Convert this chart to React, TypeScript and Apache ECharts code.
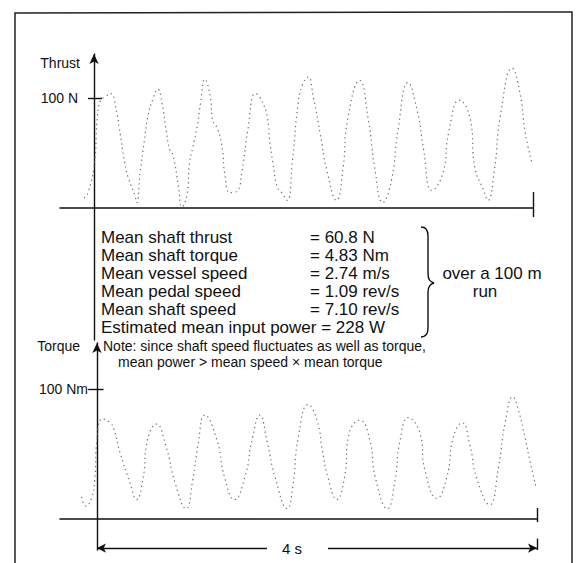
import React, { useEffect, useRef } from "react";
import * as echarts from "echarts";

// ---- data ----
const thrustT = [-0.09, -0.05, 0.01, 0.02, 0.03, 0.06, 0.10, 0.15, 0.21, 0.23, 0.28, 0.31, 0.37, 0.39, 0.42, 0.46, 0.49, 0.54, 0.58, 0.62, 0.66, 0.69, 0.72, 0.77, 0.80, 0.85, 0.87, 0.90, 0.94, 0.97, 1.01, 1.06, 1.08, 1.13, 1.17, 1.19, 1.24, 1.30, 1.35, 1.40, 1.47, 1.51, 1.58, 1.60, 1.63, 1.67, 1.71, 1.76, 1.81, 1.86, 1.90, 1.95, 2.00, 2.06, 2.12, 2.21, 2.27, 2.31, 2.42, 2.50, 2.56, 2.63, 2.71, 2.77, 2.86, 2.95, 3.00, 3.08, 3.18, 3.23, 3.33, 3.43, 3.47, 3.55, 3.59, 3.65, 3.70, 3.81, 3.88, 3.93, 3.99];
const thrustN = [9, 15, 46, 65, 83, 98, 101, 104, 85, 73, 41, 28, 12, 5, 32, 62, 83, 100, 108, 95, 69, 53, 48, 19, 1, 14, 41, 55, 74, 95, 117, 101, 80, 71, 53, 32, 14, 15, 35, 70, 104, 101, 82, 62, 41, 19, 14, 7, 45, 95, 112, 119, 100, 68, 35, 7, 37, 80, 116, 80, 35, 5, 25, 71, 114, 86, 55, 16, 32, 68, 98, 80, 37, 16, 7, 36, 82, 127, 105, 68, 41];

const torqueT = [-0.14, -0.10, -0.05, -0.02, 0.0, 0.05, 0.12, 0.15, 0.21, 0.30, 0.36, 0.42, 0.46, 0.54, 0.63, 0.71, 0.81, 0.87, 0.92, 0.98, 1.09, 1.16, 1.25, 1.35, 1.41, 1.48, 1.55, 1.62, 1.73, 1.78, 1.83, 1.92, 2.00, 2.05, 2.10, 2.18, 2.25, 2.29, 2.39, 2.48, 2.53, 2.64, 2.71, 2.75, 2.83, 2.94, 2.98, 3.09, 3.18, 3.24, 3.32, 3.39, 3.45, 3.57, 3.65, 3.71, 3.78, 3.83, 3.89, 3.94, 3.99];
const torqueV = [17, 10, 16, 30, 61, 77, 74, 70, 51, 28, 15, 32, 61, 73, 55, 28, 8, 30, 58, 80, 61, 32, 15, 34, 61, 80, 58, 32, 8, 25, 63, 88, 76, 52, 32, 15, 32, 65, 76, 61, 32, 8, 30, 58, 78, 65, 38, 16, 32, 63, 74, 57, 32, 11, 40, 74, 94, 84, 63, 43, 25];

const thrustTick = [100];
const torqueTick = [100];
const thrustTickLabel = "100 N";
const torqueTickLabel = "100 Nm";
const durationSeconds = 4;
const durationLabel = "4 s";

const statLabels = ["Mean shaft thrust", "Mean shaft torque", "Mean vessel speed", "Mean pedal speed", "Mean shaft speed"];
const statValues = ["= 60.8 N", "= 4.83 Nm", "= 2.74 m/s", "= 1.09 rev/s", "= 7.10 rev/s"];
const powerLine = "Estimated mean input power = 228 W";
const noteLines = ["Note: since shaft speed fluctuates as well as torque,", "mean power > mean speed \u00d7 mean torque"];
const runLines = ["over a 100 m", "run"];

const FONT = "'Liberation Sans', Arial, Helvetica, sans-serif";
const INK = "#111";

echarts.graphic.registerShape(
  "brace",
  echarts.graphic.extendPath(
    "M0,0 C5,0 7,3 7,9 L7,47 C7,52 9,55 13,56 C9,57 7,60 7,65 L7,101 C7,107 5,110 0,110",
    {}
  )
);

function seg(a: number[], b: number[]) {
  return [{ coord: a }, { coord: b }];
}

export default function App() {
  const ref = useRef<HTMLDivElement>(null);
  useEffect(() => {
    document.body.style.margin = "0";
    const chart = echarts.init(ref.current!, null, { renderer: "svg" });
    const lineMark = {
      silent: true,
      symbol: "none",
      label: { show: false },
      lineStyle: { color: INK, width: 1.4, type: "solid" as const },
      emphasis: { disabled: true },
    };
    const dotted = { color: "#6f6f6f", width: 1.2, type: [1.3, 3.4] };
    const axisCommonX = {
      type: "value" as const,
      max: durationSeconds,
      axisLine: { onZero: true, lineStyle: { color: INK, width: 1.6 } },
      axisTick: { show: false },
      axisLabel: { show: false },
      splitLine: { show: false },
    };
    const txt = (x: number, y: number, text: string, size: number, align = "left") => ({
      type: "text", x, y,
      style: { text, fontSize: size, fontFamily: FONT, fill: INK, align, verticalAlign: "middle" },
    });
    const statTexts: any[] = [];
    statLabels.forEach((s, i) => {
      statTexts.push(txt(101, 237 + i * 18, s, 17));
      statTexts.push(txt(310, 237 + i * 18, statValues[i], 17));
    });
    statTexts.push(txt(101, 327, powerLine, 17));
    statTexts.push(txt(103, 346, noteLines[0], 14));
    statTexts.push(txt(118, 362, noteLines[1], 14));
    statTexts.push(txt(492, 273, runLines[0], 17, "center"));
    statTexts.push(txt(485, 291, runLines[1], 17, "center"));

    chart.setOption({
      animation: false,
      backgroundColor: "#ffffff",
      grid: [
        { left: 60, right: 45, top: 54, bottom: 223 },
        { left: 60, right: 41, top: 343, bottom: 13 },
      ],
      xAxis: [
        { ...axisCommonX, gridIndex: 0, min: -0.31 },
        { ...axisCommonX, gridIndex: 1, min: -0.336 },
      ],
      yAxis: [
        {
          type: "value", gridIndex: 0, min: -120, max: 140,
          axisLine: { show: true, onZero: true, symbol: ["none", "arrow"], symbolSize: [7, 10], lineStyle: { color: INK, width: 1.4 } },
          axisTick: { show: false },
          axisLabel: { show: true, customValues: thrustTick, formatter: () => thrustTickLabel, margin: -18, fontSize: 14, fontFamily: FONT, color: INK },
          splitLine: { show: false },
        },
        {
          type: "value", gridIndex: 1, min: -23.8, max: 135.4,
          axisLine: { show: true, onZero: true, symbol: ["none", "arrow"], symbolSize: [7, 10], lineStyle: { color: INK, width: 1.4 } },
          axisTick: { show: false },
          axisLabel: { show: true, customValues: torqueTick, formatter: () => torqueTickLabel, margin: -28, fontSize: 14, fontFamily: FONT, color: INK },
          splitLine: { show: false },
        },
      ],
      series: [
        {
          name: "Thrust", type: "line", xAxisIndex: 0, yAxisIndex: 0,
          data: thrustT.map((t, i) => [t, thrustN[i]]),
          smooth: 0.5, symbol: "none", lineStyle: dotted,
          markLine: {
            ...lineMark,
            data: [
              seg([-0.055, thrustTick[0]], [0.073, thrustTick[0]]),
              seg([durationSeconds, 14.5], [durationSeconds, -8.2]),
            ],
          },
        },
        {
          name: "Torque", type: "line", xAxisIndex: 1, yAxisIndex: 1,
          data: torqueT.map((t, i) => [t, torqueV[i]]),
          smooth: 0.5, symbol: "none", lineStyle: dotted,
          markLine: {
            ...lineMark,
            data: [
              seg([-0.08, torqueTick[0]], [0.06, torqueTick[0]]),
              seg([durationSeconds, 8.5], [durationSeconds, -2.3]),
              seg([durationSeconds, -15], [durationSeconds, -23.8]),
            ],
          },
        },
        {
          name: "Duration", type: "line", xAxisIndex: 1, yAxisIndex: 1, data: [],
          markLine: {
            silent: true,
            label: { show: false },
            symbolSize: [7, 9],
            lineStyle: { color: INK, width: 1.3, type: "solid" },
            data: [
              [{ coord: [0, -22.3], symbol: "arrow" }, { coord: [1.545, -22.3], symbol: "none" }],
              [{ coord: [2.1, -22.3], symbol: "none" }, { coord: [durationSeconds, -22.3], symbol: "arrow" }],
            ],
          },
        },
      ],
      graphic: [
        {
          type: "polyline", silent: true,
          shape: { points: [[15, 563], [15, 13], [572, 12], [572, 563]] },
          style: { stroke: "#222", lineWidth: 1.5, fill: "none" },
        },
        txt(80, 63, "Thrust", 14, "right"),
        txt(80, 346, "Torque", 14, "right"),
        txt(292, 548, durationLabel, 15, "center"),
        { type: "brace", x: 421, y: 227, style: { stroke: INK, lineWidth: 1.4, fill: "none" } },
        ...statTexts,
      ],
    });
    return () => chart.dispose();
  }, []);
  return (
    <div
      ref={ref}
      style={{ position: "fixed", left: 0, top: 0, width: 578, height: 563, background: "#fff" }}
    />
  );
}
